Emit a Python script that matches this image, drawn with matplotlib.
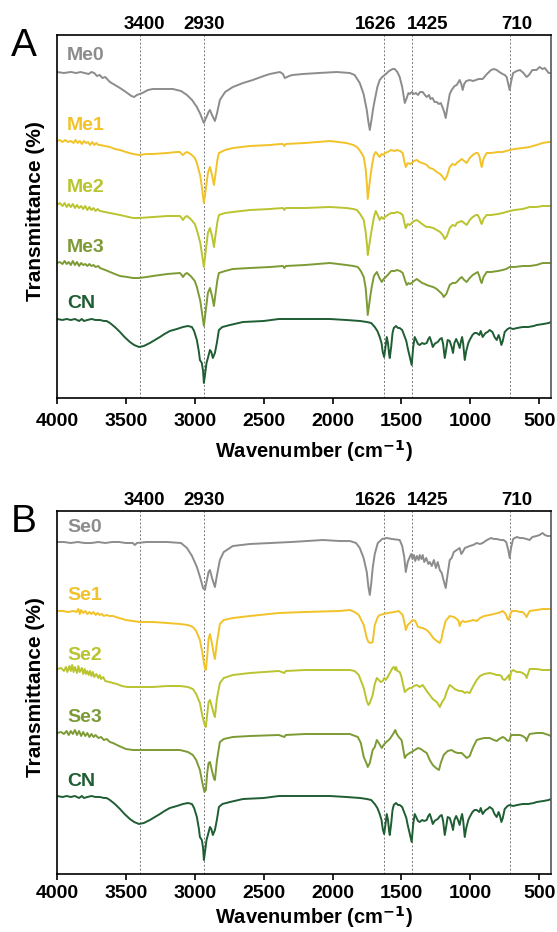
import numpy as np
import matplotlib
matplotlib.use("Agg")
from matplotlib import pyplot as plt
from matplotlib import transforms

plt.rcParams['font.family'] = ['Liberation Sans', 'DejaVu Sans']

# marker bands (cm-1) and where their labels sit (labels are nudged apart)
bands = [3400, 2930, 1626, 1425, 710]
band_label_x = [3365, 2930, 1690, 1310, 660]
xticks = [4000, 3500, 3000, 2500, 2000, 1500, 1000, 500]

# spectra: (wavenumber, relative transmittance)
me0 = [
    (4000, 0), (3950, -1), (3900, 0), (3860, -1), (3830, 0), (3800, -1), (3770, -2), (3750, 0),
    (3730, -1), (3710, -4), (3690, -3), (3670, -6), (3650, -5), (3616, -10), (3580, -13),
    (3543, -16), (3500, -20), (3460, -24), (3440, -25), (3420, -23), (3380, -21), (3340, -18),
    (3304, -17), (3250, -17), (3200, -17), (3159, -17), (3100, -19), (3057, -23), (3020, -28),
    (2985, -35), (2960, -42), (2934, -51), (2915, -45), (2900, -40), (2890, -38), (2875, -43),
    (2854, -49), (2840, -42), (2818, -28), (2780, -20), (2724, -15), (2650, -11), (2579, -8),
    (2500, -4), (2455, -2), (2383, 0), (2360, -2), (2347, -6), (2330, -5), (2316, -4), (2290, -3),
    (2216, -2), (2100, -1), (1970, 0), (1875, -1), (1840, -3), (1803, -11), (1775, -22),
    (1752, -38), (1740, -50), (1730, -58), (1718, -48), (1705, -36), (1694, -28), (1675, -15),
    (1658, -8), (1640, -5), (1621, -3), (1590, 1), (1564, 3), (1549, 3), (1530, 0), (1513, -5),
    (1495, -15), (1476, -31), (1462, -26), (1450, -21), (1440, -22), (1425, -20), (1410, -22),
    (1395, -21), (1380, -23), (1365, -20), (1346, -20), (1330, -23), (1317, -25), (1300, -23),
    (1290, -27), (1275, -26), (1260, -30), (1244, -30), (1230, -32), (1215, -31), (1200, -36),
    (1190, -40), (1179, -46), (1165, -34), (1150, -22), (1136, -18), (1115, -14), (1099, -13),
    (1078, -8), (1066, -12), (1056, -18), (1045, -12), (1030, -9), (1005, -8), (980, -9),
    (960, -8), (940, -7), (911, -7), (880, -2), (850, 2), (830, 3), (809, 2), (790, 0), (766, -2),
    (750, -3), (737, -5), (725, -12), (715, -18), (705, -10), (690, -1), (664, 1), (640, 2),
    (615, -1), (592, -5), (575, -3), (550, 2), (520, 2), (498, 5), (476, 3), (460, 4), (432, -1),
    (415, -1)]

me1 = [
    (4000, 0), (3980, 1), (3960, -1), (3940, 1), (3920, -1), (3900, 0), (3880, -2), (3865, 1),
    (3850, -2), (3835, 0), (3820, -3), (3805, 0), (3790, -2), (3775, -1), (3760, -4), (3745, -1),
    (3730, -4), (3715, -2), (3700, -4), (3688, -4), (3650, -5), (3616, -6), (3580, -8),
    (3543, -9), (3500, -11), (3449, -13), (3405, -14), (3350, -13), (3304, -13), (3200, -12),
    (3130, -11), (3108, -11), (3095, -13), (3086, -14), (3070, -12), (3057, -11), (3030, -13),
    (3000, -17), (2985, -22), (2960, -35), (2945, -50), (2934, -62), (2920, -48), (2905, -32),
    (2890, -26), (2875, -34), (2861, -44), (2850, -33), (2835, -18), (2825, -12), (2780, -9),
    (2724, -7), (2600, -5), (2455, -4), (2380, -3), (2361, -3), (2350, -5), (2340, -3),
    (2200, -2), (2020, 0), (1900, -2), (1850, -4), (1824, -6), (1800, -10), (1774, -16),
    (1760, -28), (1750, -45), (1745, -58), (1738, -50), (1725, -35), (1716, -26), (1700, -14),
    (1687, -11), (1670, -14), (1658, -16), (1645, -13), (1630, -14), (1621, -12), (1600, -11),
    (1575, -9), (1549, -10), (1534, -9), (1510, -10), (1491, -12), (1480, -20), (1469, -26),
    (1455, -22), (1440, -23), (1426, -22), (1410, -20), (1389, -19), (1370, -21), (1350, -22),
    (1330, -23), (1317, -24), (1295, -27), (1270, -28), (1244, -31), (1220, -33), (1200, -36),
    (1186, -39), (1170, -35), (1150, -26), (1130, -23), (1110, -24), (1099, -22), (1080, -20),
    (1063, -18), (1045, -20), (1027, -22), (1005, -17), (983, -14), (960, -12), (947, -12),
    (935, -15), (925, -22), (918, -26), (905, -18), (882, -12), (850, -12), (800, -11),
    (766, -11), (740, -10), (715, -9), (680, -8), (620, -7), (570, -6), (520, -4), (476, -2),
    (432, -1), (415, -1)]

me2 = [
    (4000, 0), (3980, 2), (3960, -1), (3945, 2), (3930, -2), (3915, 1), (3900, -2), (3885, 1),
    (3870, -3), (3855, 0), (3840, -3), (3825, -1), (3810, -4), (3795, -1), (3780, -5),
    (3765, -2), (3750, -5), (3735, -3), (3720, -6), (3705, -4), (3688, -6), (3650, -7),
    (3616, -8), (3543, -10), (3480, -12), (3449, -13), (3405, -13), (3304, -12), (3200, -11),
    (3108, -11), (3095, -13), (3086, -15), (3070, -12), (3057, -11), (3030, -14), (3000, -19),
    (2985, -25), (2960, -38), (2945, -52), (2934, -62), (2920, -45), (2905, -28), (2890, -23),
    (2875, -31), (2861, -42), (2850, -30), (2835, -16), (2825, -10), (2780, -8), (2724, -7),
    (2600, -5), (2455, -4), (2361, -3), (2350, -5), (2340, -3), (2200, -3), (2020, -2),
    (1900, -3), (1850, -4), (1824, -5), (1800, -9), (1774, -15), (1760, -27), (1750, -40),
    (1745, -50), (1738, -44), (1725, -32), (1716, -25), (1700, -12), (1687, -6), (1670, -11),
    (1658, -15), (1645, -12), (1630, -14), (1621, -12), (1600, -10), (1575, -8), (1549, -8),
    (1534, -7), (1510, -8), (1491, -10), (1480, -17), (1469, -23), (1455, -19), (1440, -20),
    (1426, -18), (1410, -16), (1389, -15), (1370, -17), (1350, -19), (1330, -21), (1317, -22),
    (1295, -22), (1270, -23), (1244, -25), (1220, -27), (1200, -30), (1186, -34), (1170, -31),
    (1150, -23), (1130, -20), (1110, -21), (1099, -18), (1080, -17), (1063, -16), (1045, -18),
    (1027, -20), (1005, -15), (983, -12), (960, -10), (947, -10), (935, -13), (925, -17),
    (918, -19), (905, -14), (882, -10), (850, -10), (800, -9), (766, -8), (740, -7), (715, -6),
    (680, -5), (620, -4), (570, -2), (520, -2), (476, -1), (432, -1), (415, -1)]

me3 = [
    (4000, 0), (3980, 1), (3960, -1), (3945, 2), (3930, -1), (3915, 1), (3900, -2), (3885, 2),
    (3870, -2), (3855, 1), (3840, -3), (3825, 0), (3810, -2), (3795, -1), (3780, -3),
    (3765, -1), (3750, -3), (3735, -2), (3720, -4), (3700, -3), (3688, -5), (3650, -7),
    (3616, -9), (3580, -11), (3543, -13), (3490, -14), (3449, -15), (3405, -15), (3350, -14),
    (3304, -13), (3200, -11), (3108, -10), (3095, -12), (3086, -14), (3070, -11), (3057, -10),
    (3030, -13), (3000, -18), (2985, -24), (2960, -38), (2945, -52), (2934, -63), (2920, -47),
    (2905, -30), (2890, -25), (2875, -33), (2861, -43), (2850, -31), (2835, -16), (2825, -10),
    (2780, -8), (2724, -6), (2600, -5), (2455, -4), (2361, -3), (2350, -5), (2340, -3),
    (2200, -2), (2020, 0), (1900, -2), (1850, -3), (1817, -4), (1795, -8), (1774, -14),
    (1760, -25), (1750, -42), (1745, -52), (1738, -45), (1725, -32), (1716, -24), (1700, -13),
    (1679, -9), (1660, -15), (1643, -19), (1630, -16), (1621, -15), (1600, -12), (1575, -8),
    (1549, -8), (1534, -7), (1510, -8), (1491, -10), (1475, -17), (1462, -22), (1450, -20),
    (1440, -21), (1426, -20), (1410, -18), (1389, -16), (1370, -18), (1350, -20), (1330, -21),
    (1317, -22), (1295, -23), (1270, -24), (1244, -26), (1220, -29), (1205, -31), (1194, -34),
    (1175, -31), (1150, -22), (1130, -20), (1110, -20), (1099, -19), (1080, -16), (1063, -14),
    (1045, -17), (1027, -19), (1005, -15), (983, -12), (960, -10), (947, -9), (935, -13),
    (925, -18), (918, -20), (905, -14), (882, -9), (850, -9), (800, -8), (766, -7), (740, -6),
    (715, -4), (680, -4), (620, -3), (570, -3), (520, -2), (476, 0), (432, 0), (415, 0)]

cn = [
    (4000, 0), (3960, -1), (3930, 0), (3900, -1), (3870, 0), (3840, -2), (3820, 0), (3804, -2),
    (3780, -1), (3750, 0), (3720, -1), (3688, -1), (3660, -2), (3640, -2), (3616, -4),
    (3580, -8), (3543, -13), (3510, -18), (3471, -23), (3440, -26), (3405, -28), (3370, -27),
    (3326, -24), (3290, -21), (3253, -18), (3220, -15), (3181, -12), (3130, -10), (3086, -8),
    (3050, -7), (3021, -8), (3005, -12), (2985, -21), (2970, -33), (2963, -41), (2949, -44),
    (2940, -52), (2934, -64), (2925, -55), (2915, -44), (2905, -39), (2890, -31), (2880, -33),
    (2869, -39), (2860, -36), (2854, -34), (2840, -24), (2825, -11), (2800, -8), (2745, -6),
    (2650, -3), (2500, -2), (2390, 0), (2200, 0), (2020, 0), (1900, -1), (1800, -2), (1752, -3),
    (1720, -4), (1694, -8), (1675, -12), (1658, -18), (1645, -24), (1636, -33), (1626, -38),
    (1618, -30), (1607, -18), (1598, -24), (1590, -35), (1585, -39), (1575, -28), (1565, -14),
    (1556, -9), (1540, -7), (1525, -9), (1513, -9), (1495, -11), (1476, -18), (1465, -22),
    (1455, -29), (1440, -38), (1426, -46), (1415, -28), (1404, -18), (1390, -22), (1380, -25),
    (1368, -26), (1350, -24), (1335, -25), (1317, -24), (1305, -20), (1295, -18), (1285, -22),
    (1273, -28), (1260, -25), (1250, -24), (1237, -23), (1220, -20), (1208, -19), (1198, -25),
    (1186, -39), (1175, -30), (1165, -21), (1150, -22), (1136, -28), (1126, -34), (1116, -24),
    (1103, -20), (1090, -24), (1078, -29), (1068, -22), (1060, -18), (1052, -25), (1041, -41),
    (1030, -32), (1015, -24), (1005, -21), (985, -16), (970, -14), (954, -14), (935, -16),
    (925, -12), (911, -18), (890, -14), (875, -13), (860, -11), (840, -13), (825, -18),
    (809, -21), (795, -16), (785, -20), (775, -26), (765, -22), (751, -13), (730, -10),
    (715, -9), (690, -10), (660, -9), (621, -8), (580, -8), (540, -7), (519, -6), (470, -5),
    (432, -4), (415, -3)]

se0 = [
    (4000, 0), (3950, 0), (3900, -1), (3850, 0), (3800, -1), (3750, -1), (3700, 0), (3650, -1),
    (3600, 0), (3550, 0), (3500, -1), (3450, -1), (3435, -3), (3420, -1), (3350, 0), (3304, 0),
    (3200, 0), (3100, -1), (3057, -6), (3020, -14), (2985, -25), (2960, -36), (2940, -46),
    (2927, -48), (2915, -40), (2900, -30), (2890, -28), (2875, -36), (2854, -45), (2840, -34),
    (2818, -18), (2790, -10), (2724, -4), (2600, -2), (2450, -1), (2300, 0), (2071, 2),
    (1950, 1), (1875, 1), (1830, -1), (1803, -6), (1775, -16), (1752, -30), (1740, -45),
    (1730, -53), (1720, -42), (1709, -26), (1694, -12), (1672, -1), (1640, 3), (1607, 4),
    (1570, 3), (1513, 2), (1495, -4), (1480, -15), (1469, -30), (1455, -20), (1440, -15),
    (1430, -12), (1420, -17), (1410, -13), (1400, -19), (1389, -14), (1375, -18), (1368, -13),
    (1355, -17), (1346, -13), (1335, -20), (1320, -16), (1305, -22), (1295, -20), (1280, -24),
    (1265, -18), (1250, -26), (1237, -20), (1222, -28), (1208, -31), (1195, -38), (1179, -46),
    (1165, -32), (1150, -18), (1136, -16), (1120, -10), (1099, -8), (1078, -6), (1066, -12),
    (1056, -10), (1040, -6), (1005, -4), (980, -3), (954, -1), (930, -2), (911, -1), (880, 2),
    (850, 4), (830, 3), (809, 3), (780, 2), (760, 2), (740, 0), (725, -8), (715, -16),
    (705, -6), (690, 3), (664, 5), (640, 4), (621, 4), (592, 3), (570, 2), (550, 5), (520, 6),
    (498, 7), (476, 9), (460, 7), (440, 6), (415, 6)]

se1 = [
    (4000, 0), (3960, 0), (3920, -1), (3880, 0), (3860, -1), (3845, 2), (3835, -3), (3825, 1),
    (3810, -2), (3795, 0), (3780, -3), (3765, -1), (3750, -3), (3735, -1), (3720, -4),
    (3705, -2), (3690, -4), (3675, -3), (3660, -5), (3640, -4), (3620, -5), (3594, -5),
    (3550, -7), (3500, -9), (3449, -10), (3400, -11), (3304, -11), (3200, -12), (3108, -13),
    (3050, -14), (3014, -16), (2990, -20), (2963, -29), (2945, -42), (2930, -55), (2920, -59),
    (2910, -45), (2900, -28), (2890, -23), (2875, -33), (2860, -45), (2854, -48), (2840, -32),
    (2818, -13), (2790, -9), (2724, -7), (2600, -5), (2390, -2), (2200, -1), (1950, 0),
    (1875, 1), (1840, -1), (1810, -4), (1774, -14), (1752, -27), (1740, -31), (1725, -32),
    (1709, -31), (1694, -14), (1672, -6), (1658, -4), (1630, -3), (1600, -2), (1550, -1),
    (1520, 0), (1491, -4), (1475, -14), (1469, -19), (1455, -14), (1440, -12), (1420, -9),
    (1400, -10), (1380, -16), (1346, -17), (1317, -19), (1295, -22), (1270, -27), (1244, -30),
    (1222, -32), (1210, -28), (1200, -21), (1180, -10), (1150, -5), (1120, -6), (1099, -8),
    (1085, -10), (1078, -15), (1066, -11), (1056, -10), (1040, -11), (1005, -10), (980, -9),
    (954, -10), (930, -7), (900, -5), (860, -4), (830, -3), (800, -2), (780, -1), (766, 0),
    (750, -2), (740, -4), (730, -8), (722, -9), (712, -4), (700, 0), (664, 0), (640, -1),
    (621, -1), (600, -4), (592, -6), (582, -3), (570, 0), (520, 1), (476, 2), (432, 2),
    (415, 2)]

se2 = [
    (4000, 0), (3970, 1), (3950, -2), (3935, 2), (3925, -3), (3910, 3), (3900, -2), (3890, 4),
    (3880, -3), (3870, 2), (3855, -4), (3845, 3), (3835, -3), (3820, 1), (3810, -5), (3800, 0),
    (3790, -5), (3780, -2), (3770, -6), (3760, -2), (3750, -7), (3740, -3), (3730, -8),
    (3715, -5), (3700, -9), (3690, -6), (3680, -10), (3665, -8), (3650, -12), (3620, -13),
    (3594, -14), (3565, -15), (3530, -17), (3490, -18), (3449, -18), (3400, -18), (3304, -18),
    (3200, -17), (3108, -17), (3050, -18), (3014, -20), (2990, -25), (2963, -34), (2945, -47),
    (2930, -55), (2920, -58), (2910, -45), (2900, -33), (2890, -31), (2875, -38), (2860, -46),
    (2854, -48), (2840, -30), (2818, -14), (2790, -9), (2724, -6), (2600, -4), (2390, -2),
    (2350, -4), (2340, -2), (2200, -1), (1950, -1), (1875, -1), (1840, -2), (1810, -6),
    (1774, -19), (1752, -32), (1740, -36), (1730, -34), (1709, -26), (1694, -15), (1679, -9),
    (1665, -11), (1650, -13), (1636, -12), (1625, -9), (1615, -11), (1600, -8), (1585, -4),
    (1565, 1), (1556, 2), (1545, -1), (1540, 2), (1530, -2), (1513, -3), (1500, -8),
    (1491, -14), (1476, -23), (1462, -21), (1440, -19), (1426, -19), (1410, -17), (1389, -16),
    (1368, -18), (1346, -16), (1317, -22), (1295, -26), (1273, -30), (1244, -33), (1222, -38),
    (1205, -33), (1186, -29), (1170, -22), (1150, -16), (1130, -18), (1114, -20), (1099, -21),
    (1078, -22), (1060, -22), (1041, -24), (1027, -23), (1005, -24), (983, -18), (954, -11),
    (930, -7), (900, -5), (860, -4), (830, -5), (809, -6), (790, -6), (775, -7), (766, -10),
    (751, -11), (737, -9), (720, -6), (715, -11), (705, -3), (690, -1), (664, -3), (640, -3),
    (621, -4), (600, -6), (592, -9), (582, -5), (570, 0), (520, 0), (476, -1), (432, -1),
    (415, -1)]

se3 = [
    (4000, 0), (3970, 1), (3950, -1), (3930, 2), (3915, -2), (3900, 2), (3885, -1), (3870, 3),
    (3855, -2), (3840, 2), (3825, -3), (3810, 1), (3795, -3), (3780, 0), (3765, -4), (3750, -1),
    (3735, -4), (3720, -2), (3700, -5), (3680, -4), (3660, -7), (3640, -6), (3616, -9),
    (3594, -10), (3550, -13), (3500, -16), (3449, -17), (3400, -17), (3304, -17), (3200, -17),
    (3108, -17), (3050, -19), (3014, -22), (2990, -27), (2963, -37), (2945, -50), (2930, -59),
    (2920, -57), (2910, -40), (2900, -30), (2890, -29), (2875, -38), (2860, -46), (2854, -47),
    (2840, -28), (2818, -9), (2790, -6), (2724, -4), (2600, -3), (2390, -2), (2350, -4),
    (2340, -2), (2200, -1), (1950, -1), (1875, -1), (1817, -4), (1795, -10), (1774, -24),
    (1752, -31), (1745, -34), (1730, -30), (1709, -17), (1694, -14), (1679, -7), (1665, -10),
    (1643, -15), (1630, -12), (1610, -9), (1585, -6), (1556, 0), (1545, 3), (1534, -1),
    (1520, -4), (1500, -7), (1490, -14), (1476, -25), (1462, -22), (1440, -20), (1426, -19),
    (1404, -17), (1380, -15), (1360, -16), (1340, -18), (1317, -20), (1295, -27), (1273, -32),
    (1250, -35), (1228, -37), (1215, -30), (1194, -22), (1165, -18), (1136, -17), (1114, -19),
    (1092, -20), (1063, -20), (1041, -23), (1027, -25), (1005, -23), (983, -15), (954, -7),
    (930, -6), (900, -5), (860, -5), (830, -7), (809, -8), (790, -6), (766, -4), (751, -5),
    (737, -7), (725, -8), (715, -7), (705, -2), (690, -2), (664, -2), (640, -2), (621, -3),
    (600, -5), (592, -8), (582, -4), (570, -1), (520, 0), (476, 0), (432, -2), (415, -3)]

names_a = ['Me0', 'Me1', 'Me2', 'Me3', 'CN']
names_b = ['Se0', 'Se1', 'Se2', 'Se3', 'CN']
spectra_a = [me0, me1, me2, me3, cn]
spectra_b = [se0, se1, se2, se3, cn]
offsets_a = [326, 257, 193, 135, 79]
offsets_b = [332, 263, 205, 141, 78]
label_y_a = [343, 273, 210, 150, 95]
label_y_b = [347, 278, 219, 156, 92]
colors = ['#8c8c8c', '#f2c229', '#b9c42e', '#7d9b35', '#1f5d33']

W, H = 557, 932
fig = plt.figure(figsize=(W / 100, H / 100), dpi=100)


def panel(top, bottom, tick_pad, xlab_base, spectra, offsets, names, label_y, letter):
    ax = fig.add_axes([57 / W, 1 - bottom / H, 494 / W, (bottom - top) / H])
    for spec, off, c in zip(spectra, offsets, colors):
        d = np.array(spec, dtype=float)
        ax.plot(d[:, 0], d[:, 1] + off, color=c, lw=1.4, solid_joinstyle='round')
    trans = transforms.blended_transform_factory(ax.transData, ax.transAxes)
    for b, bx in zip(bands, band_label_x):
        ax.axvline(b, color='#777777', lw=0.7, ls=(0, (2, 2)), zorder=0)
        ax.text(bx, 1.03, str(b), transform=trans, ha='center', va='center',
                fontsize=13.5, fontweight='bold')
    lab_trans = transforms.blended_transform_factory(ax.transAxes, ax.transData)
    for n, y, c in zip(names, label_y, colors):
        ax.text(0.02, y, n, transform=lab_trans, color=c, fontsize=14,
                fontweight='bold', ha='left', va='center')
    ax.set_xlim(4000, 415)
    ax.set_ylim(0, 363)
    ax.set_yticks([])
    ax.set_xticks(xticks)
    ax.tick_params(axis='x', direction='out', length=4, width=1.2, pad=tick_pad, labelsize=14)
    for t in ax.get_xticklabels():
        t.set_fontweight('bold')
    for s in ax.spines.values():
        s.set_linewidth(1.2)
    ax.spines['right'].set_color('#555555')
    fig.text(24 / W, 1 - (top + 11) / H, letter, fontsize=28, ha='center', va='center')
    fig.text(36 / W, 1 - (top + bottom) / 2 / H + 0.006, 'Transmittance (%)', rotation=90,
             fontsize=15, fontweight='bold', ha='center', va='center')
    fig.text(314 / W, 1 - xlab_base / H, 'Wavenumber (cm$^{\\mathbf{-1}}$)',
             fontsize=14.5, fontweight='bold', ha='center', va='baseline')
    return ax


panel(35, 398, 7, 458, spectra_a, offsets_a, names_a, label_y_a, 'A')
panel(511, 874, 4, 924, spectra_b, offsets_b, names_b, label_y_b, 'B')

fig.savefig('out.png', dpi=100)
